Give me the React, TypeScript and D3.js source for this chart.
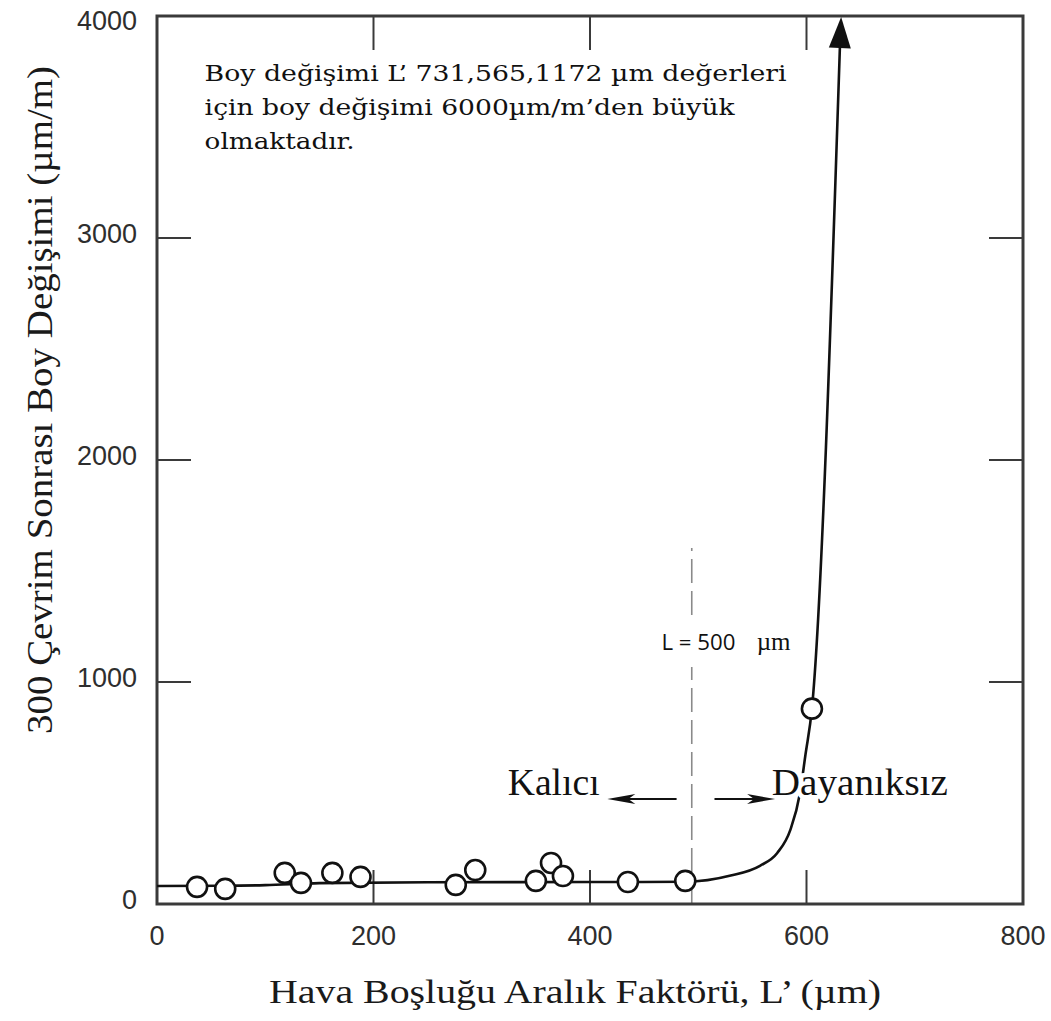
import React from "react";
import * as d3 from "d3";

const W = 1051;
const H = 1021;

// axis ticks
const xTickValues = [0, 200, 400, 600, 800];
const yTickValues = [0, 1000, 2000, 3000, 4000];
const xInnerTicks = [200, 400, 600];
const yInnerTicks = [1000, 2000, 3000];

// measured points (L', µm) vs length change (µm/m)
const pointX = [37, 63, 118, 133, 162, 188, 276, 294, 350, 364, 375, 435, 488, 605];
const pointY = [77, 68, 140, 95, 140, 122, 86, 153, 104, 185, 126, 99, 104, 880];

// fitted trend curve
const curveX = [0, 60, 100, 150, 250, 400, 488, 530, 557, 573, 585, 594, 599, 605, 632];
const curveY = [81, 82, 85, 94, 98, 99, 100, 128, 172, 230, 333, 500, 671, 880, 4000];

// annotation texts
const noteLines = [
  "Boy değişimi L’ 731,565,1172 µm  değerleri",
  "için boy değişimi 6000µm/m’den büyük",
  "olmaktadır.",
];
const noteBaselines = [3707, 3552, 3403];
const noteLengths = [582, 530, 150];
const noteX = 44;

const limitX = 494;
const dashSegments = [
  [0, 1068],
  [1302, 1604],
];

const xTitle = "Hava Boşluğu Aralık Faktörü, L’ (µm)";
const yTitle = "300 Çevrim Sonrası Boy Değişimi (µm/m)";

export default function App() {
  const x = d3.scaleLinear().domain([0, 800]).range([157, 1023]);
  const y = d3.scaleLinear().domain([0, 4000]).range([904, 16]);

  // arrowhead at end of curve
  const n = curveX.length;
  const tipX = x(curveX[n - 1]);
  const tipY = y(curveY[n - 1]) + 1;
  const prevX = x(curveX[n - 2]);
  const prevY = y(curveY[n - 2]);
  const len = Math.hypot(tipX - prevX, tipY - prevY);
  const ux = (tipX - prevX) / len;
  const uy = (tipY - prevY) / len;
  const aL = 31;
  const aW = 11;
  const bx = tipX - ux * aL;
  const by = tipY - uy * aL;
  const arrowHead = `M${tipX},${tipY} L${bx - uy * aW},${by + ux * aW} L${bx + uy * aW},${by - ux * aW} Z`;

  const pathD = (() => {
    const xs = curveX.map((v) => x(v));
    const ys = curveY.map((v) => y(v));
    xs[n - 1] = bx + ux * 4;
    ys[n - 1] = by + uy * 4;
    return d3
      .line<number>()
      .x((i) => xs[i])
      .y((i) => ys[i])
      .curve(d3.curveMonotoneX)(d3.range(n));
  })();

  const smallArrow = (x1: number, x2: number, yy: number) => {
    const px1 = x(x1);
    const px2 = x(x2);
    const py = y(yy);
    const dir = Math.sign(px2 - px1);
    const hl = 28;
    const hw = 5;
    return (
      <g>
        <line x1={px1} y1={py} x2={px2 - dir * hl * 0.6} y2={py} stroke="#111" strokeWidth={2.2} />
        <path
          d={`M${px2},${py} L${px2 - dir * hl},${py - hw} L${px2 - dir * hl * 0.75},${py} L${px2 - dir * hl},${py + hw} Z`}
          fill="#111"
        />
      </g>
    );
  };

  const frameColor = "#3a3a3a";
  const tickLen = 34;

  return (
    <svg
      width={W}
      height={H}
      style={{ position: "absolute", left: 0, top: 0, background: "#fff" }}
      xmlns="http://www.w3.org/2000/svg"
    >
      <rect x={0} y={0} width={W} height={H} fill="#fff" />

      {/* dashed limit line */}
      {dashSegments.map(([a, b], i) => (
        <line
          key={i}
          x1={x(limitX)}
          x2={x(limitX)}
          y1={y(a)}
          y2={y(b)}
          stroke="#8a8a8a"
          strokeWidth={1.6}
          strokeDasharray="24 8"
        />
      ))}

      {/* inner ticks */}
      {xInnerTicks.map((t) => (
        <g key={"xt" + t}>
          <line x1={x(t)} x2={x(t)} y1={y(0)} y2={y(0) - tickLen} stroke={frameColor} strokeWidth={2} />
          <line x1={x(t)} x2={x(t)} y1={y(4000)} y2={y(4000) + tickLen} stroke={frameColor} strokeWidth={2} />
        </g>
      ))}
      {yInnerTicks.map((t) => (
        <g key={"yt" + t}>
          <line x1={x(0)} x2={x(0) + tickLen} y1={y(t)} y2={y(t)} stroke={frameColor} strokeWidth={2} />
          <line x1={x(800)} x2={x(800) - tickLen} y1={y(t)} y2={y(t)} stroke={frameColor} strokeWidth={2} />
        </g>
      ))}

      {/* frame */}
      <rect
        x={x(0)}
        y={y(4000)}
        width={x(800) - x(0)}
        height={y(0) - y(4000)}
        fill="none"
        stroke={frameColor}
        strokeWidth={3}
      />

      {/* curve */}
      <path d={pathD || ""} fill="none" stroke="#111" strokeWidth={2.6} />
      <path d={arrowHead} fill="#111" />

      {/* points */}
      {pointX.map((px, i) => (
        <circle key={i} cx={x(px)} cy={y(pointY[i])} r={10} fill="#fff" stroke="#111" strokeWidth={2.6} />
      ))}

      {/* tick labels */}
      {yTickValues.map((t) => (
        <text
          key={"yl" + t}
          x={137}
          y={Math.max(y(t) - 4, 21)}
          textAnchor="end"
          dominantBaseline="central"
          fontFamily="Liberation Sans, Arial, sans-serif"
          fontSize={27}
          fill="#2e2e2e"
        >
          {t}
        </text>
      ))}
      {xTickValues.map((t) => (
        <text
          key={"xl" + t}
          x={x(t)}
          y={945}
          textAnchor="middle"
          fontFamily="Liberation Sans, Arial, sans-serif"
          fontSize={27}
          fill="#2e2e2e"
        >
          {t}
        </text>
      ))}

      {/* axis titles */}
      <text
        x={575}
        y={1003}
        textAnchor="middle"
        fontFamily="Liberation Serif, serif"
        fontSize={33}
        fill="#1a1a1a"
        textLength={612}
        lengthAdjust="spacingAndGlyphs"
      >
        {xTitle}
      </text>
      <text
        transform={`translate(52,400) rotate(-90)`}
        textAnchor="middle"
        fontFamily="Liberation Serif, serif"
        fontSize={36}
        fill="#1a1a1a"
        textLength={668}
        lengthAdjust="spacingAndGlyphs"
      >
        {yTitle}
      </text>

      {/* note */}
      {noteLines.map((s, i) => (
        <text
          key={"n" + i}
          x={x(noteX)}
          y={y(noteBaselines[i])}
          fontFamily="DejaVu Serif, serif"
          fontSize={22}
          fill="#111"
          textLength={noteLengths[i]}
          lengthAdjust="spacingAndGlyphs"
        >
          {s}
        </text>
      ))}

      {/* L = 500 label */}
      <text
        x={x(466)}
        y={y(1145)}
        fontFamily="Open Sans, Liberation Sans, sans-serif"
        fontSize={21}
        fill="#111"
        textLength={74}
        lengthAdjust="spacingAndGlyphs"
      >
        L = 500
      </text>
      <text x={x(554)} y={y(1145)} fontFamily="Liberation Serif, serif" fontSize={25} fill="#111">
        µm
      </text>

      {/* regions */}
      <text
        x={x(324)}
        y={y(491)}
        fontFamily="Liberation Serif, serif"
        fontSize={37}
        fill="#111"
        textLength={92}
        lengthAdjust="spacingAndGlyphs"
      >
        Kalıcı
      </text>
      <text
        x={x(568)}
        y={y(491)}
        fontFamily="Liberation Serif, serif"
        fontSize={37}
        fill="#111"
        stroke="#fff"
        strokeWidth={9}
        paintOrder="stroke"
        textLength={176}
        lengthAdjust="spacingAndGlyphs"
      >
        Dayanıksız
      </text>
      {smallArrow(480, 416, 473)}
      {smallArrow(515, 571, 473)}
    </svg>
  );
}
